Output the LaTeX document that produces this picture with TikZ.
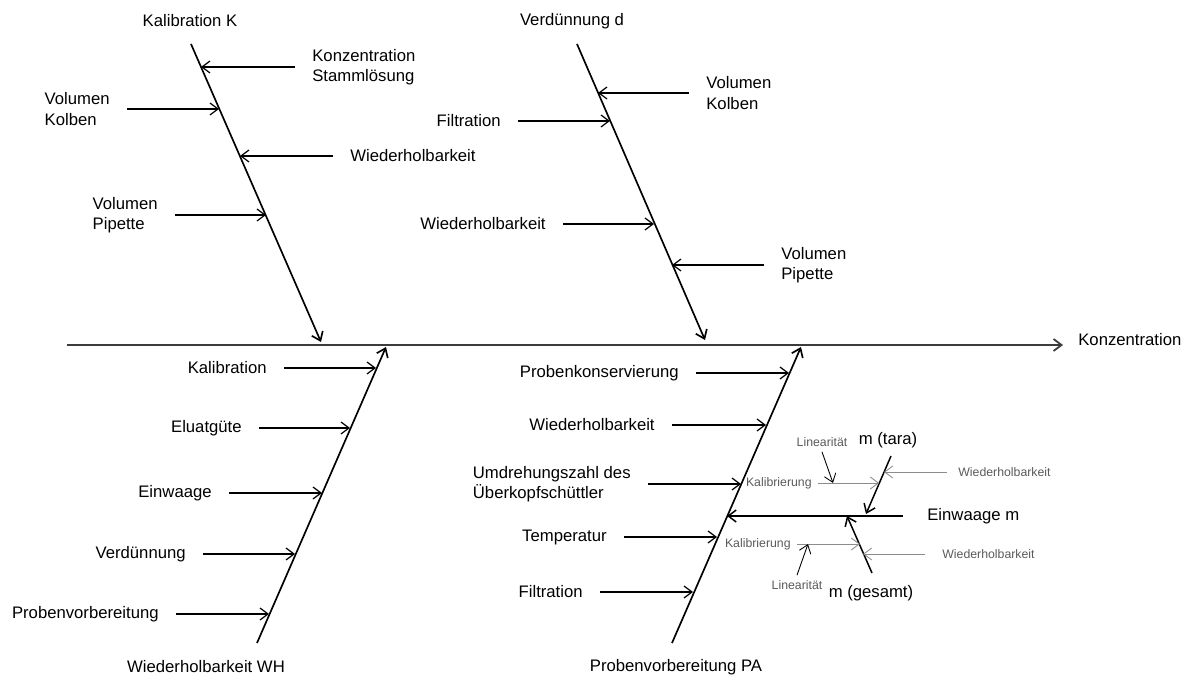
\documentclass[tikz,border=0pt]{standalone}
\usepackage{fontspec}
\setmainfont{Liberation Sans}
\usetikzlibrary{arrows.meta}
\definecolor{ink}{HTML}{000000}
\definecolor{spinec}{HTML}{3C3C3C}
\definecolor{faint}{HTML}{8C8C8C}
\definecolor{faintText}{HTML}{5A5A5A}
\tikzset{
  >={Straight Barb[length=1.6mm,width=2.4mm]},
  every node/.style={text=ink},
  main/.style={font=\fontsize{9.5}{11.5}\selectfont,align=left,inner sep=0pt},
  cause/.style={main,inner xsep=3.4mm,inner ysep=0pt},
  small/.style={font=\fontsize{7}{8}\selectfont,text=faintText,inner xsep=1.2mm,inner ysep=1mm},
  spine/.style={->,line width=1pt,draw=spinec},
  bone/.style={->,line width=0.95pt,draw=ink},
  arrow/.style={->,line width=0.7pt,draw=ink},
  subbone/.style={->,line width=0.85pt,draw=ink},
  thin/.style={->,line width=0.5pt,draw=faint},
}

\begin{document}
\begin{tikzpicture}[x=0.02cm,y=-0.02cm]
  \useasboundingbox (0,0) rectangle (1181,675);

  % spine
  \coordinate (tail) at (67,345);
  \node[main,anchor=west] (effect) at (1078,340) {Konzentration};
  \draw[spine] (tail) -- (1063,345) coordinate (head);

  % Kalibration K
  \node[main] (kal) at (190,21) {Kalibration K};
  \coordinate (kal top) at (191,44); \coordinate (kal end) at (321,342);
  \draw[bone] (kal top) -- (kal end);
  \node[cause,anchor=west] (kStamm) at (295,67) {Konzentration\\Stammlösung};
  \node[cause,anchor=east] (kKolben) at (127,109) {Volumen\\Kolben};
  \node[cause,anchor=west] (kWdh) at (333,156) {Wiederholbarkeit};
  \node[cause,anchor=east] (kPip) at (175,215) {Volumen\\Pipette};
  \coordinate (k1) at (201,67); \coordinate (k2) at (219,109);
  \coordinate (k3) at (240,156); \coordinate (k4) at (266,215);
  \draw[arrow] (kStamm.west) -- (k1); \draw[arrow] (kKolben.east) -- (k2);
  \draw[arrow] (kWdh.west) -- (k3); \draw[arrow] (kPip.east) -- (k4);

  % Verduennung d
  \node[main] (verd) at (572,21) {Verdünnung d};
  \coordinate (verd top) at (577,44); \coordinate (verd end) at (705,340);
  \draw[bone] (verd top) -- (verd end);
  \node[cause,anchor=west] (dKolben) at (689,93) {Volumen\\Kolben};
  \node[cause,anchor=east] (dFilt) at (518,121) {Filtration};
  \node[cause,anchor=east] (dWdh) at (563,224) {Wiederholbarkeit};
  \node[cause,anchor=west] (dPip) at (764,265) {Volumen\\Pipette};
  \coordinate (d1) at (598,93); \coordinate (d2) at (610,121);
  \coordinate (d3) at (654,224); \coordinate (d4) at (672,265);
  \draw[arrow] (dKolben.west) -- (d1); \draw[arrow] (dFilt.east) -- (d2);
  \draw[arrow] (dWdh.east) -- (d3); \draw[arrow] (dPip.west) -- (d4);

  % Wiederholbarkeit WH
  \node[main] (wh) at (206,667) {Wiederholbarkeit WH};
  \coordinate (wh foot) at (257,643); \coordinate (wh end) at (386,347);
  \draw[bone] (wh foot) -- (wh end);
  \node[cause,anchor=east] (wKal) at (284,368) {Kalibration};
  \node[cause,anchor=east] (wElu) at (259,428) {Eluatgüte};
  \node[cause,anchor=east] (wEin) at (229,493) {Einwaage};
  \node[cause,anchor=east] (wVerd) at (203,554) {Verdünnung};
  \node[cause,anchor=east] (wProb) at (176,614) {Probenvorbereitung};
  \coordinate (w1) at (376,368); \coordinate (w2) at (350,428);
  \coordinate (w3) at (322,493); \coordinate (w4) at (295,554);
  \coordinate (w5) at (269,614);
  \draw[arrow] (wKal.east) -- (w1); \draw[arrow] (wElu.east) -- (w2);
  \draw[arrow] (wEin.east) -- (w3); \draw[arrow] (wVerd.east) -- (w4);
  \draw[arrow] (wProb.east) -- (w5);

  % Probenvorbereitung PA
  \node[main] (pa) at (676,667) {Probenvorbereitung PA};
  \coordinate (pa foot) at (672,643); \coordinate (pa end) at (801,347);
  \draw[bone] (pa foot) -- (pa end);
  \node[cause,anchor=east] (pKons) at (696,373) {Probenkonservierung};
  \node[cause,anchor=east] (pWdh) at (672,425) {Wiederholbarkeit};
  \node[cause,anchor=east] (pUmd) at (648,484) {Umdrehungszahl des\\Überkopfschüttler};
  \node[cause,anchor=east] (pTemp) at (624,537) {Temperatur};
  \node[cause,anchor=east] (pFilt) at (600,592) {Filtration};
  \coordinate (p1) at (789,373); \coordinate (p2) at (766,425);
  \coordinate (p3) at (741,484); \coordinate (p4) at (717,537);
  \coordinate (p5) at (693,592);
  \draw[arrow] (pKons.east) -- (p1); \draw[arrow] (pWdh.east) -- (p2);
  \draw[arrow] (pUmd.east) -- (p3); \draw[arrow] (pTemp.east) -- (p4);
  \draw[arrow] (pFilt.east) -- (p5);

  % Einwaage m
  \node[cause,anchor=west,inner xsep=4.8mm] (einw) at (903,516) {Einwaage m};
  \coordinate (einw end) at (727,516);
  \draw[subbone] (einw.west) -- (einw end);

  % m (tara)
  \node[main] (tara) at (888,440) {m (tara)};
  \coordinate (tara top) at (891,456); \coordinate (tara end) at (866,514);
  \draw[subbone] (tara top) -- (tara end);
  \node[small,anchor=east] (tKal) at (818,483) {Kalibrierung};
  \node[small] (tLin) at (822,442) {Linearität};
  \node[small,anchor=west,inner xsep=2.2mm] (tWdh) at (947,472) {Wiederholbarkeit};
  \coordinate (t1) at (879,483); \coordinate (t2) at (833,483);
  \coordinate (t3) at (884,472);
  \draw[thin] (tKal.east) -- (t1);
  \draw[->,line width=0.5pt,draw=ink] (tLin.south) -- (t2);
  \draw[thin] (tWdh.west) -- (t3);

  % m (gesamt)
  \node[main] (gesamt) at (871,593) {m (gesamt)};
  \coordinate (ges foot) at (872,573); \coordinate (ges end) at (847,516);
  \draw[subbone] (ges foot) -- (ges end);
  \node[small,anchor=east] (gKal) at (797,544) {Kalibrierung};
  \node[small] (gLin) at (797,585) {Linearität};
  \node[small,anchor=west,inner xsep=3.4mm] (gWdh) at (925,554) {Wiederholbarkeit};
  \coordinate (g1) at (860,544); \coordinate (g2) at (808,544);
  \coordinate (g3) at (863,554);
  \draw[thin] (gKal.east) -- (g1);
  \draw[->,line width=0.5pt,draw=ink] (gLin.north) -- (g2);
  \draw[thin] (gWdh.west) -- (g3);
\end{tikzpicture}
\end{document}
